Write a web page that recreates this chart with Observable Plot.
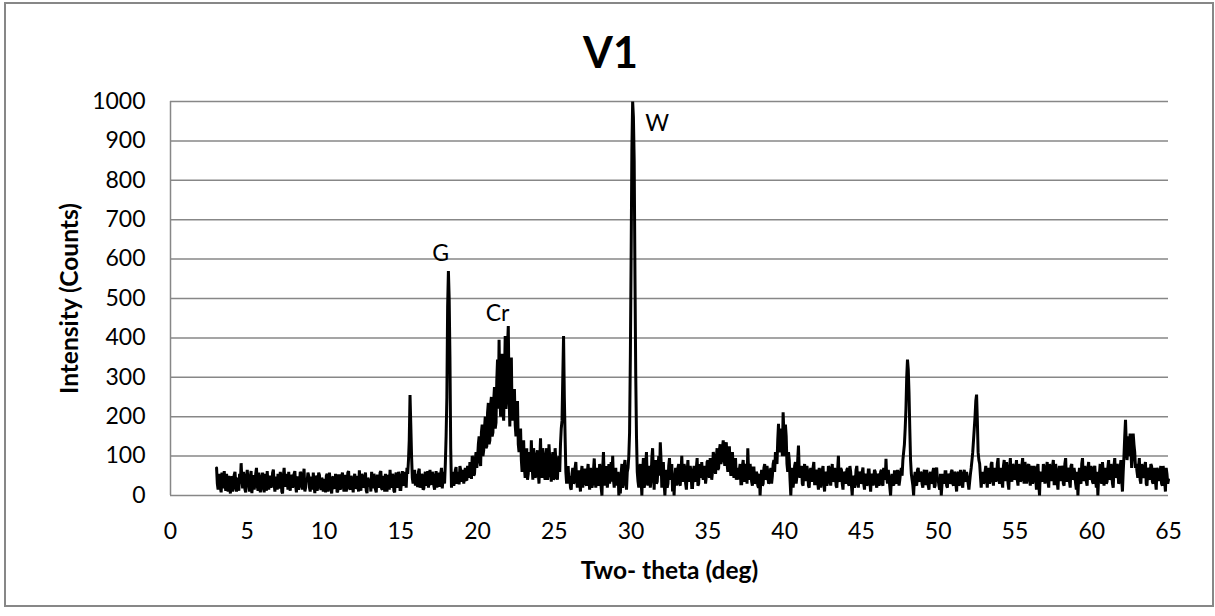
<!DOCTYPE html>
<html>
<head>
<meta charset="utf-8">
<script src="https://cdn.jsdelivr.net/npm/d3@7"></script>
<script src="https://cdn.jsdelivr.net/npm/@observablehq/plot@0.6"></script>
<style>
  html, body { margin: 0; padding: 0; background: #fff; }
  #wrap { position: relative; width: 1215px; height: 616px; overflow: hidden; }
  #border { position: absolute; left: 4px; top: 2px; width: 1206px; height: 601px;
            border: 2px solid #878787; pointer-events: none; }
</style>
</head>
<body>
<div id="wrap"><div id="border"></div></div>
<script>
// Scan grid: samples every 0.05 deg from 3.00 to 65.00
const scanStart = 3.0;   // deg two-theta
const scanStep = 0.05;   // deg

// Intensity (counts) at whole tenths: 3.0, 3.1, ... 65.0 (one row per degree)
const intensityTenths = [
  70, 15, 55, 8, 40, 62, 12, 35, 50, 5,        // 3
  45, 20, 60, 10, 38, 55, 82, 18, 42, 8,       // 4
  65, 25, 48, 6, 52, 30, 70, 12, 44, 20,       // 5
  58, 8, 35, 62, 15, 50, 28, 66, 10, 40,       // 6
  55, 18, 45, 5, 70, 22, 38, 60, 12, 48,       // 7
  30, 62, 8, 42, 25, 55, 15, 68, 20, 35,       // 8
  50, 10, 40, 58, 6, 45, 22, 52, 14, 38,       // 9
  42, 8, 55, 25, 35, 5, 48, 18, 40, 12,        // 10
  50, 22, 58, 10, 45, 30, 62, 15, 38, 8,       // 11
  55, 20, 42, 64, 12, 48, 25, 58, 6, 40,       // 12
  35, 60, 18, 45, 8, 52, 28, 62, 15, 40,       // 13
  55, 10, 48, 65, 20, 42, 8, 58, 30, 50,       // 14
  15, 62, 25, 50, 70, 90, 255, 100, 30, 65,    // 15
  55, 22, 68, 30, 48, 18, 60, 35, 20, 65,      // 16
  28, 50, 15, 62, 38, 22, 55, 18, 60, 80,      // 17
  250, 570, 350, 20, 60, 35, 72, 40, 28, 65,   // 18
  45, 30, 70, 38, 60, 85, 42, 95, 55, 110,     // 19
  95, 150, 75, 180, 115, 200, 125, 235, 140, 250, // 20
  160, 275, 185, 345, 395, 200, 360, 190, 405, 250, // 21
  430, 175, 350, 250, 270, 150, 240, 110, 170, 60,  // 22
  140, 45, 120, 55, 100, 140, 40, 95, 50, 115, // 23
  30, 145, 45, 90, 40, 120, 55, 95, 35, 110,   // 24
  45, 90, 40, 100, 130, 190, 405, 150, 30, 75, // 25
  50, 15, 70, 35, 85, 20, 60, 10, 75, 40,      // 26
  65, 25, 80, 15, 55, 30, 94, 20, 70, 35,      // 27
  60, 0, 110, 25, 75, 40, 30, 85, 101, 20,     // 28
  70, 45, 0, 5, 80, 30, 90, 15, 70, 160,       // 29
  600, 1000, 850, 310, 60, 20, 80, 0, 95, 30,  // 30
  110, 25, 75, 40, 120, 15, 90, 35, 100, 135,  // 31
  20, 85, 0, 65, 30, 95, 45, 10, 0, 70,        // 32
  40, 80, 25, 101, 35, 70, 15, 90, 45, 60,     // 33
  20, 75, 35, 95, 30, 60, 85, 40, 70, 50,      // 34
  89, 45, 80, 60, 100, 55, 120, 70, 130, 90,   // 35
  140, 75, 135, 60, 125, 50, 110, 45, 95, 55,  // 36
  40, 80, 30, 90, 35, 75, 120, 40, 60, 25,     // 37
  70, 35, 55, 20, 0, 65, 30, 80, 45, 60,       // 38
  35, 70, 50, 90, 110, 80, 182, 120, 150, 211, // 39
  100, 150, 60, 90, 0, 70, 40, 85, 50, 127,    // 40
  45, 75, 25, 80, 40, 60, 20, 70, 35, 85,      // 41
  30, 65, 15, 55, 40, 75, 10, 60, 35, 70,      // 42
  25, 80, 40, 60, 20, 101, 35, 65, 15, 55,     // 43
  40, 70, 25, 60, 0, 50, 30, 75, 20, 55,       // 44
  35, 71, 15, 50, 30, 65, 10, 55, 40, 60,      // 45
  20, 50, 35, 65, 25, 55, 93, 30, 45, 0,       // 46
  55, 25, 60, 30, 50, 40, 70, 90, 130, 220,    // 47
  345, 260, 90, 40, 0, 60, 25, 70, 35, 55,     // 48
  20, 65, 30, 50, 15, 60, 35, 70, 25, 71,      // 49
  40, 15, 0, 55, 30, 60, 20, 50, 35, 65,       // 50
  25, 55, 10, 60, 30, 50, 20, 65, 35, 45,      // 51
  15, 55, 89, 140, 200, 256, 110, 81, 20, 60,  // 52
  35, 75, 20, 60, 40, 85, 25, 65, 45, 95,      // 53
  30, 70, 20, 90, 40, 60, 15, 95, 35, 75,      // 54
  45, 90, 25, 65, 40, 95, 30, 70, 50, 80,      // 55
  25, 75, 40, 60, 15, 80, 0, 55, 35, 70,       // 56
  45, 85, 20, 65, 40, 90, 30, 60, 15, 75,      // 57
  40, 70, 25, 95, 35, 65, 20, 80, 45, 55,      // 58
  15, 0, 70, 30, 95, 40, 60, 25, 85, 45,       // 59
  65, 30, 75, 20, 0, 55, 40, 85, 25, 70,       // 60
  35, 90, 45, 65, 20, 95, 50, 75, 35, 90,      // 61
  10, 100, 192, 90, 150, 157, 70, 157, 110, 80, // 62
  45, 95, 30, 70, 50, 85, 25, 65, 40, 75,      // 63
  30, 70, 15, 65, 40, 75, 25, 60, 10, 55,      // 64
  40                                           // 65
];

// Intensity (counts) at the half steps: 3.05, 3.15, ... 64.95 (one row per degree)
const intensityHalves = [
  30, 45, 20, 58, 18, 30, 55, 10, 25, 48,      // 3
  10, 52, 28, 45, 12, 30, 40, 60, 15, 50,      // 4
  35, 10, 62, 30, 15, 55, 25, 58, 8, 45,       // 5
  25, 55, 12, 30, 45, 20, 58, 30, 48, 15,      // 6
  30, 60, 10, 50, 35, 55, 15, 25, 52, 20,      // 7
  55, 25, 48, 15, 60, 30, 50, 10, 45, 58,      // 8
  20, 48, 15, 25, 50, 12, 58, 25, 45, 10,      // 9
  22, 50, 10, 58, 15, 45, 20, 55, 8, 50,       // 10
  15, 48, 25, 52, 10, 58, 20, 50, 25, 45,      // 11
  18, 50, 10, 30, 55, 20, 48, 12, 45, 22,      // 12
  10, 35, 55, 15, 48, 20, 58, 18, 50, 10,      // 13
  28, 52, 15, 30, 55, 12, 50, 20, 60, 15,      // 14
  40, 30, 60, 20, 55, 140, 180, 45, 55, 25,    // 15
  30, 60, 20, 55, 15, 50, 25, 62, 45, 30,      // 16
  60, 25, 45, 20, 58, 35, 70, 40, 30, 150,     // 17
  480, 500, 120, 45, 25, 65, 30, 60, 75, 35,   // 18
  65, 55, 40, 75, 45, 60, 100, 50, 90, 70,     // 19
  130, 90, 160, 100, 170, 120, 210, 130, 230, 150, // 20
  240, 170, 290, 220, 260, 330, 210, 300, 220, 380, // 21
  260, 300, 190, 220, 180, 200, 130, 150, 90, 120,  // 22
  70, 90, 40, 110, 60, 80, 120, 45, 100, 60,   // 23
  90, 55, 120, 50, 100, 40, 130, 60, 90, 40,   // 24
  120, 50, 85, 60, 170, 300, 250, 60, 55, 30,  // 25
  20, 55, 30, 70, 40, 60, 35, 55, 20, 65,      // 26
  30, 60, 40, 70, 20, 65, 40, 55, 25, 80,      // 27
  20, 70, 40, 60, 20, 80, 55, 35, 40, 65,      // 28
  25, 60, 30, 55, 20, 75, 40, 60, 100, 350,    // 29
  880, 960, 560, 150, 35, 70, 40, 60, 20, 80,  // 30
  40, 70, 20, 95, 60, 80, 30, 70, 50, 90,      // 31
  60, 30, 40, 20, 75, 40, 80, 40, 50, 25,      // 32
  70, 30, 60, 45, 80, 30, 60, 35, 75, 20,      // 33
  60, 40, 70, 25, 80, 45, 50, 75, 30, 85,      // 34
  60, 95, 40, 110, 75, 95, 65, 115, 80, 120,   // 35
  100, 125, 80, 105, 70, 95, 60, 85, 40, 70,   // 36
  65, 30, 75, 45, 80, 30, 60, 80, 35, 70,      // 37
  30, 60, 25, 55, 40, 25, 70, 40, 75, 30,      // 38
  60, 30, 80, 60, 100, 140, 110, 170, 100, 160, // 39
  180, 80, 110, 40, 45, 20, 75, 30, 90, 60,    // 40
  70, 30, 65, 40, 75, 25, 60, 45, 70, 30,      // 41
  60, 35, 70, 20, 65, 30, 55, 25, 75, 40,      // 42
  60, 35, 70, 25, 65, 40, 70, 30, 60, 30,      // 43
  65, 30, 75, 25, 45, 20, 65, 40, 60, 30,      // 44
  60, 30, 55, 25, 65, 35, 50, 25, 65, 30,      // 45
  55, 25, 60, 30, 70, 40, 45, 65, 20, 40,      // 46
  30, 60, 35, 65, 25, 60, 50, 110, 170, 300,   // 47
  320, 170, 55, 25, 45, 30, 65, 40, 60, 30,    // 48
  55, 30, 65, 25, 50, 30, 60, 20, 55, 40,      // 49
  25, 55, 30, 40, 60, 25, 55, 30, 60, 30,      // 50
  60, 30, 55, 25, 65, 30, 55, 40, 60, 30,      // 51
  35, 70, 110, 170, 240, 190, 90, 50, 45, 30,  // 52
  60, 40, 70, 30, 80, 45, 70, 35, 80, 40,      // 53
  65, 35, 75, 40, 85, 30, 70, 45, 80, 40,      // 54
  70, 40, 80, 35, 75, 45, 85, 30, 75, 40,      // 55
  70, 30, 75, 45, 70, 30, 60, 40, 80, 30,      // 56
  70, 35, 80, 40, 75, 30, 80, 35, 60, 40,      // 57
  75, 30, 80, 45, 70, 35, 75, 40, 70, 30,      // 58
  60, 45, 35, 80, 40, 75, 35, 70, 40, 75,      // 59
  35, 70, 40, 60, 45, 80, 30, 60, 45, 30,      // 60
  70, 40, 80, 30, 75, 45, 80, 30, 70, 40,      // 61
  60, 150, 130, 120, 100, 120, 100, 130, 70, 60, // 62
  70, 40, 80, 45, 75, 30, 70, 45, 80, 35,      // 63
  60, 35, 70, 40, 60, 30, 75, 35, 70, 30       // 64
];

// Peak labels
const peakLabels = ["G", "Cr", "W"];
const peakLabelX = [17.6, 21.3, 31.7];
const peakLabelY = [614, 462, 944];

// Axis ticks
const xTicks = [0, 5, 10, 15, 20, 25, 30, 35, 40, 45, 50, 55, 60, 65];
const yTicks = [0, 100, 200, 300, 400, 500, 600, 700, 800, 900, 1000];

const titleText = "V1";
const xTitle = "Two- theta (deg)";
const yTitle = "Intensity (Counts)";

// Interleave the two read-off lists into one scan
const counts = [];
intensityHalves.forEach((h, i) => { counts.push(intensityTenths[i], h); });
counts.push(intensityTenths[intensityTenths.length - 1]);
const data = counts.map((v, k) => ({
  twoTheta: Math.round((scanStart + k * scanStep) * 100) / 100,
  counts: v
}));
const labels = peakLabels.map((t, i) => ({ t, x: peakLabelX[i], y: peakLabelY[i] }));

const grey = "#878787";

const chart = Plot.plot({
  width: 1215,
  height: 616,
  marginLeft: 170,
  marginRight: 47,
  marginTop: 101,
  marginBottom: 121,
  style: { fontFamily: "Lato, 'Open Sans', sans-serif", fontSize: "23px", color: "#000", background: "transparent" },
  x: { domain: [0, 65], ticks: xTicks },
  y: { domain: [0, 1000], ticks: yTicks },
  marks: [
    Plot.gridY(yTicks, { stroke: grey, strokeOpacity: 1, strokeWidth: 1.5 }),
    Plot.ruleX([0], { stroke: grey, strokeWidth: 1.5 }),
    Plot.axisX({ ticks: xTicks, tickSize: 0, tickPadding: 27, label: null, tickFormat: d => String(d), fontSize: 23 }),
    Plot.axisY({ ticks: yTicks, tickSize: 0, tickPadding: 25, label: null, tickFormat: d => String(d), fontSize: 23 }),
    Plot.line(data, { x: "twoTheta", y: "counts", stroke: "#000", strokeWidth: 3, strokeLinejoin: "miter", strokeMiterlimit: 2 }),
    Plot.text(labels, { x: "x", y: "y", text: "t", fontSize: 23, fill: "#000" }),
    Plot.text([titleText], { frameAnchor: "top", textAnchor: "middle", lineAnchor: "middle", dx: -59, dy: -47, fontSize: 43, fontWeight: "bold", fill: "#000" }),
    Plot.text([xTitle], { frameAnchor: "bottom", textAnchor: "middle", lineAnchor: "middle", dy: 76, fontSize: 24.5, fontWeight: "bold", fill: "#000" }),
    Plot.text([yTitle], { frameAnchor: "left", textAnchor: "middle", lineAnchor: "middle", dx: -100, rotate: -90, fontSize: 24.5, fontWeight: "bold", fill: "#000" })
  ]
});
document.getElementById("wrap").appendChild(chart);
</script>
</body>
</html>
